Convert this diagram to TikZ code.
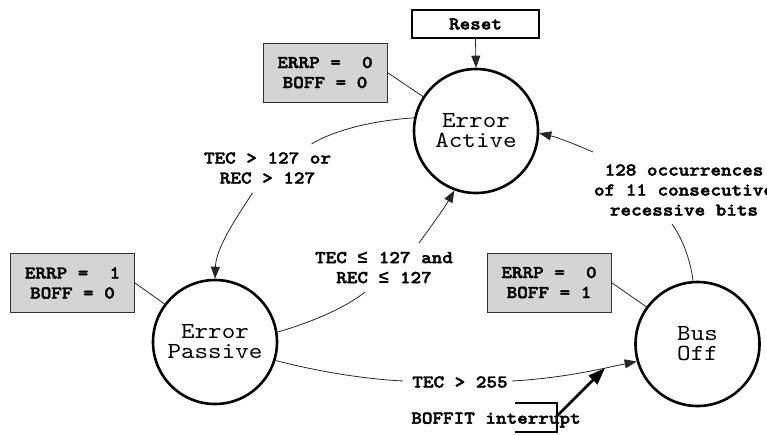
\documentclass[tikz,border=0pt]{standalone}
\usepackage{fontspec}
\setmonofont{lmmono10-regular.otf}[BoldFont=lmmonolt10-bold.otf,BoldFeatures={FakeBold=2.2},FakeStretch=1.12]
\newfontfamily\symfont{Liberation Mono}
\newcommand{\myle}{{\symfont\bfseries ≤}}
\usetikzlibrary{arrows.meta,calc}
\begin{document}
\begin{tikzpicture}[x=1pt,y=-1pt,
 state/.style={circle,draw=black,line width=2.6pt,minimum size=124pt,inner sep=0pt,align=center,font=\ttfamily\fontsize{23}{20}\selectfont},
 flag/.style={draw=black!80,line width=0.9pt,fill=black!17,minimum width=124pt,minimum height=59pt,align=center,inner sep=0pt,font=\ttfamily\bfseries\fontsize{18}{20}\selectfont},
 lbl/.style={align=center,inner sep=0pt,font=\ttfamily\bfseries\fontsize{18}{20}\selectfont},
 resetbox/.style={draw=black,line width=2.2pt,fill=white,minimum width=127pt,minimum height=28pt,inner sep=0pt,font=\ttfamily\bfseries\fontsize{18}{20}\selectfont},
 conn/.style={line width=0.8pt,draw=black!85},
 arr/.style={conn,-{Triangle[length=12pt,width=9pt]}},
 thickarr/.style={line width=2.6pt,draw=black,-{Triangle[length=17pt,width=12pt]}},
]
\clip (0,0) rectangle (767,434);
\fill[white] (0,0) rectangle (767,434);

% states
\node[state] (EA) at (476,131) {Error\\Active};
\node[state] (EP) at (215,342) {Error\\Passive};
\node[state] (BO) at (697.5,344) {Bus\\Off};

% reset and flag boxes
\node[resetbox] (RS) at (475.5,24) {Reset};
\node[flag] (F1) at (325,72.5) {ERRP =~ 0\\BOFF = 0};
\node[flag] (F2) at (72.5,283) {ERRP =~ 1\\BOFF = 0};
\node[flag] (F3) at (549,282.5) {ERRP =~ 0\\BOFF = 1};

% labels
\node[lbl] (L1) at (267.5,168) {TEC > 127 or\\REC > 127};
\node[lbl] (L2) at (384,267.5) {TEC \myle{} 127 and\\REC \myle{} 127};
\node[lbl] (L3) at (460,382) {TEC > 255};
\node[lbl] (L4) at (684,190) {128 occurrences\\of 11 consecutive\\recessive bits};
\node[lbl] (L5) at (496,420) {BOFFIT interrupt};

% transitions
\draw[conn] (EA.168) .. controls (380,120) and (338,128) .. ($(L1.center)+(44,-24)$);
\draw[arr] ($(L1.center)+(-15,25)$) .. controls (236,218) and (216,248) .. (EP.90);
\draw[conn] (EP.9) .. controls (312,322) and (345,308) .. ($(L2.center)+(-19,24.5)$);
\draw[arr] ($(L2.center)+(35,-24.5)$) .. controls (432,225) and (445,207) .. (EA.250);
\draw[conn] (EP.-17) .. controls (320,372) and (365,379) .. ($(L3.center)+(-57,-1)$);
\draw[arr] ($(L3.center)+(52,-1)$) .. controls (565,378) and (605,368) .. (BO.196);
\draw[conn] (BO.94) .. controls (690,258) and (682,238) .. ($(L4.center)+(-12,34)$);
\draw[arr] ($(L4.center)+(-91,-38)$) .. controls (575,144) and (556,137) .. (EA.-2);
\draw[arr] (RS.south) -- (EA.north);

% flag leaders
\draw[conn] (F1.east) -- (EA.147);
\draw[conn] (F2.east) -- (EP.143);
\draw[conn] (F3.east) -- (BO.144);

% BOFFIT bracket and arrow
\draw[line width=1.8pt] (515,403) -- (557,403) -- (557,432) -- (515,432);
\coordinate (BK) at (557,416);
\coordinate (BT) at (605,368);
\draw[thickarr] (BK) -- (BT);
\end{tikzpicture}
\end{document}
